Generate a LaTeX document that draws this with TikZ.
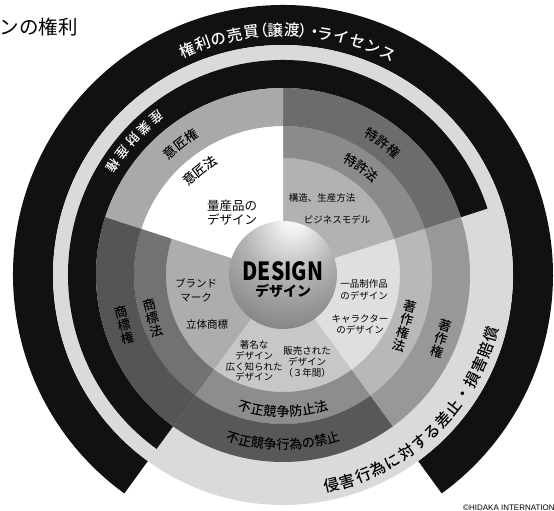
\documentclass[tikz,border=0pt]{standalone}
\usepackage{fontspec}
\newfontfamily\jp{Noto Sans CJK JP}
\newfontfamily\jpm{Noto Sans CJK JP Medium}
\newfontfamily\lsans{Liberation Sans}
\definecolor{ringblk}{HTML}{111111}
\definecolor{band}{HTML}{DADADA}
\definecolor{tkA}{HTML}{B2B2B2}
\definecolor{tkB}{HTML}{8B8B8B}
\definecolor{tkC}{HTML}{6C6C6C}
\definecolor{isC}{HTML}{A9A9A9}
\definecolor{shA}{HTML}{ADADAD}
\definecolor{shB}{HTML}{727272}
\definecolor{shC}{HTML}{555555}
\definecolor{fuA}{HTML}{C7C7C7}
\definecolor{fuB}{HTML}{8D8D8D}
\definecolor{fuC}{HTML}{585858}
\definecolor{chA}{HTML}{DFDFDF}
\definecolor{chB}{HTML}{B8B8B8}
\definecolor{chC}{HTML}{989898}
\pgfdeclareradialshading{sphereshade}{\pgfpoint{5bp}{28bp}}{color(0bp)=(white); color(6bp)=(white!94!black); color(22bp)=(black!30); color(42bp)=(black!50); color(60bp)=(black!64); color(80bp)=(black!60)}
\newcommand\annsec[5]{\fill[#1] (#2:#4) arc[start angle=#2, end angle=#3, radius=#4] -- (#3:#5) arc[start angle=#3, end angle=#2, radius=#5] -- cycle;}
% uniform spacing along an arc
\newcommand\arctxt[7]{%
  \foreach \ch [count=\i] in {#7}{%
    \pgfmathsetmacro\ang{#3+(\i-1-(#6-1)/2)*(#5)}%
    \pgfmathsetmacro\rot{\ang+((#5)>0 ? 90 : -90)}%
    \node[#2, rotate=\rot] (#1\i) at (\ang:#4) {\ch};}}
% explicit positions along an arc
\newcommand\arcptxt[7]{%
  \foreach \ch/\p [count=\i] in {#7}{%
    \pgfmathsetmacro\ang{#3+(\p-(#6))*(#5)}%
    \pgfmathsetmacro\rot{\ang+((#5)>0 ? 90 : -90)}%
    \node[#2, rotate=\rot] (#1\i) at (\ang:#4) {\ch};}}
\begin{document}
\begin{tikzpicture}[x=1pt,y=1pt,
  chr/.style={inner sep=0pt, outer sep=0pt, font=\jpm\fontsize{#1}{#1}\selectfont, text height={0.88*#1pt}, text depth={0.12*#1pt}},
  lbl/.style args={#1/#2}{inner sep=0pt, align=center, font=\jp\fontsize{#1}{#2}\selectfont},
  vlbl/.style={inner sep=0pt, align=center, font=\jpm\fontsize{13}{13.5}\selectfont}]
\useasboundingbox (0,0) rectangle (554,511);
\clip (0,0) rectangle (554,511);
\begin{scope}[shift={(283,236)}]
\annsec{ringblk}{-54}{234}{230}{270}
\fill[band] (0,0) circle (230);
\annsec{ringblk}{18}{234}{187}{215}
% patent
\annsec{tkA}{18}{90}{20}{117}
\annsec{tkB}{18}{90}{117}{149}
\annsec{tkC}{18}{90}{149}{187}
% design right
\annsec{white}{90}{162}{20}{149}
\annsec{isC}{90}{162}{149}{187}
% trademark
\annsec{shA}{162}{234}{20}{117}
\annsec{shB}{162}{234}{117}{149}
\annsec{shC}{162}{234}{149}{187}
% unfair competition
\annsec{fuA}{234}{306}{20}{117}
\annsec{fuB}{234}{306}{117}{149}
\annsec{fuC}{234}{306}{149}{187}
% copyright
\annsec{chA}{306}{378}{20}{117}
\annsec{chB}{306}{378}{117}{149}
\annsec{chC}{306}{378}{149}{187}
\shade[shading=sphereshade] (0,0) circle (54);
\node[inner sep=0pt, font=\jp\bfseries\fontsize{25}{25}\selectfont] (design) at (0,4) {\scalebox{0.84}[1]{DESIGN}};
\node[inner sep=0pt, font=\jp\bfseries\fontsize{14}{14}\selectfont] (designjp) at (0,-16) {デザイン};
\arcptxt{tA}{chr=15.5, text=white}{88.8}{245}{-3.9}{6.225}{権/0,利/1,の/2,売/3,買/4,（/4.55,譲/5.45,渡/6.45,）/7.35,・/7.85,ラ/8.45,イ/9.45,セ/10.45,ン/11.45,ス/12.45}
\arctxt{tB}{chr=15.5}{-46.5}{216}{4.35}{15}{侵,害,行,為,に,対,す,る,差,止,・,損,害,賠,償}
\arctxt{tC}{chr=13, text=white}{138}{202}{4.6}{5}{産,業,財,産,権}
\arctxt{tD}{chr=13}{53}{166}{-4.8}{3}{特,許,権}
\arctxt{tE}{chr=13}{54}{133}{-5.6}{3}{特,許,法}
\arctxt{tF}{chr=13}{128}{167}{-4.7}{3}{意,匠,権}
\arctxt{tG}{chr=13}{128.5}{134}{-5.6}{3}{意,匠,法}
\arctxt{tH}{chr=13}{-90}{137}{5.4}{7}{不,正,競,争,防,止,法}
\arctxt{tI}{chr=13}{-90}{170}{4.3}{9}{不,正,競,争,行,為,の,禁,止}
\end{scope}
\node[lbl=9.5/11] (kozo) at (322,313) {構造、生産方法};
\node[lbl=9.5/11] (biz) at (337,291) {ビジネスモデル};
\node[lbl=12.5/14] (ryosan) at (232,298) {量産品の\\デザイン};
\node[lbl=10.5/14] (brand) at (196,221) {ブランド\\マーク};
\node[lbl=10.5/12] (rittai) at (207,186) {立体商標};
\node[lbl=9.5/12] (ippin) at (364,221) {一品制作品\\のデザイン};
\node[lbl=9.5/11] (chara) at (360,187) {キャラクター\\のデザイン};
\node[lbl=9.5/10.7] (chomei) at (254,150) {著名な\\デザイン\\広く知られた\\デザイン};
\node[lbl=9.5/11] (hanbai) at (307,149) {販売された\\デザイン\\（３年間）};
\node[vlbl, rotate=14] (shoken) at (124,186) {商\\標\\権};
\node[vlbl, rotate=15] (shoho) at (153,193) {商\\標\\法};
\node[vlbl, rotate=-17] (choken) at (441,172) {著\\作\\権};
\node[vlbl, rotate=-16] (chohou) at (405,185) {著\\作\\権\\法};
\node[anchor=west, inner sep=0pt, font=\jp\fontsize{19.5}{20}\selectfont] (title) at (-0.5,484) {ンの権利};
\node[anchor=base west, inner sep=0pt, font=\lsans\fontsize{8}{8}\selectfont] (copy) at (463,0.8) {©HIDAKA INTERNATIONAL};
\end{tikzpicture}
\end{document}
